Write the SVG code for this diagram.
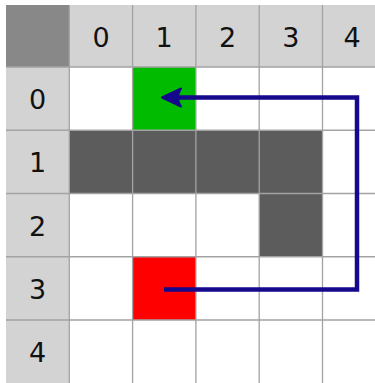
<svg xmlns="http://www.w3.org/2000/svg" width="375" height="383" viewBox="0 0 375 383">
<style>
.hdr{fill:#d3d3d3}
.wall{fill:#5c5c5c}
.grid{stroke:#a3a3a3;stroke-width:1.3;fill:none}
text{font-family:"DejaVu Sans",sans-serif;font-size:27px;fill:#111;text-anchor:middle;dominant-baseline:central}
.conn{stroke:#16088c;stroke-width:4.5;fill:none;stroke-linejoin:miter}
</style>
<rect width="375" height="383" fill="#fff"/>
<g id="corner"><rect x="6" y="5" width="63.3" height="62" fill="#888888"/></g>
<g id="col-headers">
<rect class="hdr" x="69.3" y="5" width="305.7" height="62"/>
<text x="101" y="37">0</text>
<text x="164.2" y="37">1</text>
<text x="227.5" y="37">2</text>
<text x="290.8" y="37">3</text>
<text x="352" y="37">4</text>
</g>
<g id="row-headers">
<rect class="hdr" x="6" y="67" width="63.3" height="316"/>
<text x="37.6" y="99.5">0</text>
<text x="37.6" y="162.5">1</text>
<text x="37.6" y="226">2</text>
<text x="37.6" y="289">3</text>
<text x="37.6" y="352">4</text>
</g>
<g id="walls">
<rect class="wall" x="69.3" y="130.25" width="253.2" height="63.25"/>
<rect class="wall" x="259.2" y="193.5" width="63.3" height="63.25"/>
</g>
<g id="goal"><rect x="132.6" y="67" width="63.3" height="63.25" fill="#00bb00"/></g>
<g id="start"><rect x="132.6" y="256.75" width="63.3" height="63.25" fill="#ff0000"/></g>
<g id="gridlines" class="grid">
<path d="M69.3 5V383M132.6 5V383M195.9 5V383M259.2 5V383M322.5 5V383"/>
<path d="M6 67H375M6 130.25H375M6 193.5H375M6 256.75H375M6 320H375"/>
</g>
<g id="connectors">
<path class="conn" d="M164 289.5H357V97.5H172"/>
<path d="M162 97.5 L181 88.5 Q175 97.5 181 106.5 Z" fill="#16088c" stroke="#16088c" stroke-width="2" stroke-linejoin="round"/>
</g>
</svg>
